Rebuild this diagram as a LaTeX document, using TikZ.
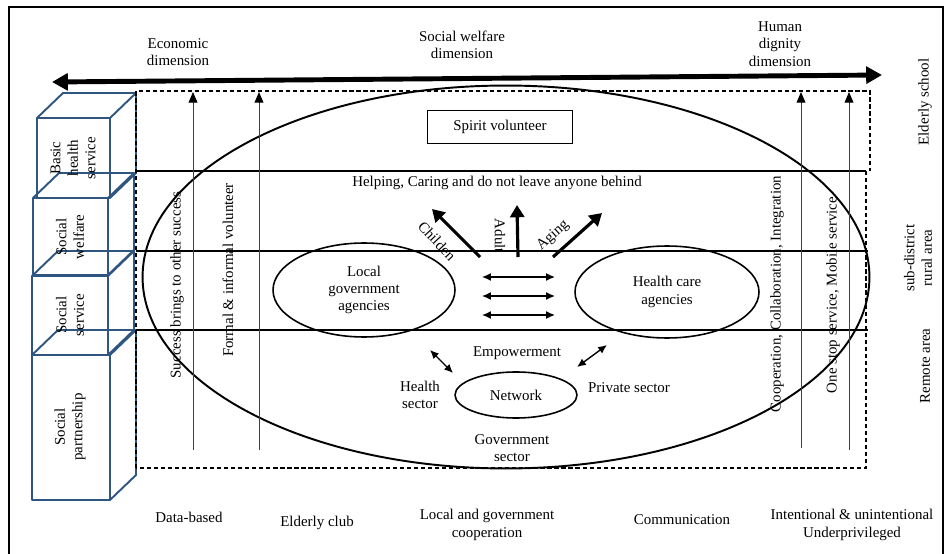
\documentclass[tikz,border=0pt]{standalone}
\usepackage{fontspec}
\setmainfont{Liberation Serif}
\usetikzlibrary{arrows.meta,shapes.geometric}
\definecolor{cubeblue}{RGB}{47,86,128}

\begin{document}
\begin{tikzpicture}
[x=0.02cm,y=-0.02cm,
 every node/.style={font=\fontsize{8.5}{9.9}\selectfont, align=center, inner sep=0pt},
 oval/.style={ellipse, draw=black, line width=0.9pt},
 cube/.style={draw=cubeblue, line width=1.1pt, line join=round},
 rail/.style={line width=0.9pt},
 upline/.style={draw=black!75, line width=0.55pt, -{Triangle[length=6pt,width=5pt,color=black]}},
 fat/.style={line width=1.8pt, -{Triangle[length=7pt,width=8pt]}},
 twoway/.style={line width=0.8pt, {Latex[length=5pt,width=4.5pt]}-{Latex[length=5pt,width=4.5pt]}}]
\useasboundingbox (0,0) rectangle (950,554);
\draw[line width=0.9pt] (9,7) rectangle (943,558);

% stacked boxes on the left
\foreach \xa/\ya/\xb/\yb in {37/118/110/198, 33/198/108/275, 32/276/108/355, 32/355/110/500}{
  \draw[cube] (\xa,\ya) rectangle (\xb,\yb);
  \draw[cube] (\xa,\ya) -- ++(26,-25) -- ++({\xb-\xa},0) -- (\xb,\ya);
  \draw[cube] (\xb,\yb) -- ++(26,-25) -- ++(0,{\ya-\yb});
}
\node[rotate=90] (b1) at (73,158) {Basic\\health\\service};
\node[rotate=90] (b2) at (70,237) {Social\\welfare};
\node[rotate=90] (b3) at (70,315) {Social\\service};
\node[rotate=90] (b4) at (70,427) {Social\\partnership};

% dashed frame and rails
\draw[line width=0.9pt, dash pattern=on 2.4pt off 1.6pt]
  (136,468) -- (136,91) -- (870,91) -- (870,171) (866,171) -- (866,468) -- (136,468);
\draw[rail] (136,171) -- (866,171);
\draw[rail] (136,251) -- (868,251);
\draw[rail] (136,330) -- (868,330);

% dimensions
\coordinate (wL) at (52,82);
\coordinate (wR) at (882,75);
\draw[line width=2.8pt, {Triangle[length=9pt,width=9.5pt]}-{Triangle[length=9pt,width=9.5pt]}] (wL) -- (wR);
\node (econ) at (178,52) {Economic\\dimension};
\node (welf) at (462,45) {Social welfare\\dimension};
\node (dign) at (780,44) {Human\\dignity\\dimension};

% big oval
\node[oval, line width=1.1pt, minimum width=14.54cm, minimum height=7.66cm] (big) at (506,277) {};

% upward lines
\coordinate (u1) at (193,450); \coordinate (v1) at (193,92);
\coordinate (u2) at (259,450); \coordinate (v2) at (259,92);
\coordinate (u3) at (801,448); \coordinate (v3) at (801,92);
\coordinate (u4) at (849,450); \coordinate (v4) at (849,92);
\draw[upline] (u1) -- (v1);
\draw[upline] (u2) -- (v2);
\draw[upline] (u3) -- (v3);
\draw[upline] (u4) -- (v4);
\node[rotate=90] (succ) at (177,285) {Success brings to other success};
\node[rotate=90] (form) at (228,270) {Formal \& informal volunteer};
\node[rotate=90] (coop) at (777,294) {Cooperation, Collaboration, Integration};
\node[rotate=90] (stop) at (833,295) {One stop service, Mobile service};

\node[draw, line width=0.9pt, minimum width=2.9cm, minimum height=0.66cm] (spirit) at (500,127) {Spirit volunteer};
\node (help) at (497,183) {Helping, Caring and do not leave anyone behind};

% ages
\coordinate (ch1) at (480,257); \coordinate (ch2) at (432,209);
\coordinate (ad1) at (518,257); \coordinate (ad2) at (517,205);
\coordinate (ag1) at (553,257); \coordinate (ag2) at (602,213);
\draw[fat] (ch1) -- (ch2);
\draw[fat] (ad1) -- (ad2);
\draw[fat] (ag1) -- (ag2);
\node[rotate=-47] (kid) at (437,241) {Childen};
\node[rotate=-90] (adult) at (500,236) {Adult};
\node[rotate=42] (aging) at (553,236) {Aging};

% agencies
\node[oval, minimum width=3.64cm, minimum height=1.88cm] (local) at (364,290) {Local\\government\\agencies};
\node[oval, minimum width=3.68cm, minimum height=1.84cm] (hca) at (667,292) {Health care\\agencies};
\coordinate (m1) at (482,277); \coordinate (n1) at (555,277);
\coordinate (m2) at (482,296); \coordinate (n2) at (555,296);
\coordinate (m3) at (482,315); \coordinate (n3) at (555,315);
\draw[twoway] (m1) -- (n1);
\draw[twoway] (m2) -- (n2);
\draw[twoway] (m3) -- (n3);

% network
\node (empow) at (517,353) {Empowerment};
\node[oval, minimum width=2.44cm, minimum height=0.92cm] (net) at (516,395) {Network};
\node (hsec) at (420,395) {Health\\sector};
\node (psec) at (629,388) {Private sector};
\node (gsec) at (512,448) {Government\\sector};
\coordinate (p1) at (430,350); \coordinate (q1) at (453,373);
\coordinate (p2) at (577,367); \coordinate (q2) at (607,345);
\draw[twoway] (p1) -- (q1);
\draw[twoway] (p2) -- (q2);

% areas
\node[rotate=90] (school) at (925,102) {Elderly school};
\node[rotate=90] (rural) at (918,258) {sub-district\\rural area};
\node[rotate=90] (remote) at (925,366) {Remote area};

% bottom row
\node (data) at (189,517) {Data-based};
\node (club) at (317,523) {Elderly club};
\node (lgc) at (487,525) {Local and government\\cooperation};
\node (comm) at (682,520) {Communication};
\node (under) at (852,525) {Intentional \& unintentional\\Underprivileged};
\end{tikzpicture}
\end{document}
